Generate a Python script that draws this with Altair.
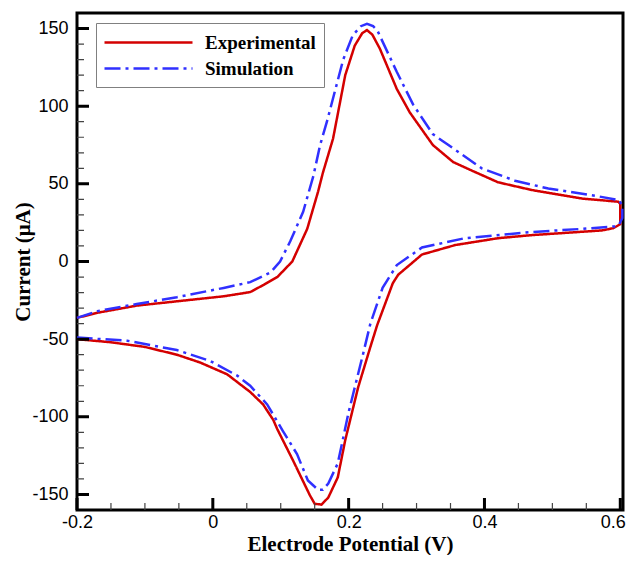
import altair as alt
import pandas as pd

# Experimental CV loop (V, uA), in scan order
exp_x = [-0.200, -0.170, -0.112, -0.050, 0.016, 0.055, 0.075, 0.095, 0.117, 0.139,
         0.155, 0.162, 0.177, 0.195, 0.209, 0.220, 0.227, 0.235, 0.246, 0.271,
         0.290, 0.324, 0.354, 0.379, 0.420, 0.470, 0.544, 0.597, 0.600, 0.600,
         0.590, 0.573, 0.470, 0.420, 0.357, 0.308, 0.273, 0.265, 0.242, 0.232,
         0.214, 0.195, 0.184, 0.170, 0.160, 0.150, 0.143, 0.118, 0.095, 0.089,
         0.074, 0.055, 0.021, -0.019, -0.053, -0.100, -0.150, -0.200]
exp_y = [-36.3, -33.0, -28.4, -25.5, -22.4, -19.7, -15.0, -10.0, 0.0, 21.0,
         45.0, 57.0, 79.0, 120.0, 139.0, 147.0, 149.0, 146.0, 137.0, 111.0,
         96.0, 75.0, 64.0, 59.0, 51.0, 46.0, 40.5, 38.5, 37.0, 24.0,
         21.5, 20.0, 17.0, 15.0, 10.6, 4.5, -8.5, -14.0, -41.0, -55.0,
         -81.0, -115.0, -139.0, -152.0, -156.5, -156.0, -150.6, -128.0, -108.0, -102.0,
         -92.0, -84.0, -72.6, -65.0, -60.0, -55.0, -52.0, -50.0]

# Simulated CV loop
sim_x = [-0.200, -0.170, -0.112, -0.053, 0.016, 0.055, 0.085, 0.099, 0.114, 0.133,
         0.148, 0.158, 0.168, 0.192, 0.206, 0.218, 0.227, 0.236, 0.242, 0.271,
         0.295, 0.324, 0.360, 0.396, 0.445, 0.494, 0.567, 0.598, 0.603, 0.603,
         0.598, 0.592, 0.544, 0.470, 0.371, 0.308, 0.271, 0.250, 0.232, 0.221,
         0.200, 0.184, 0.170, 0.162, 0.155, 0.140, 0.124, 0.103, 0.080, 0.055,
         0.036, -0.004, -0.053, -0.126, -0.200]
sim_y = [-36.3, -32.0, -27.4, -23.0, -17.0, -13.3, -7.0, 0.0, 13.0, 32.0,
         55.0, 75.0, 90.0, 130.0, 145.6, 151.5, 153.0, 151.5, 149.0, 122.0,
         101.0, 82.0, 71.0, 60.0, 52.0, 47.0, 42.0, 39.5, 36.0, 28.0,
         23.5, 22.6, 21.0, 19.0, 15.0, 9.0, -2.3, -17.0, -40.0, -60.0,
         -97.0, -130.0, -143.0, -147.0, -147.0, -141.0, -124.0, -109.0, -92.0, -80.0,
         -73.5, -64.0, -57.0, -51.0, -49.0]

series_names = ["Experimental", "Simulation"]

x_major = [-0.2, 0.0, 0.2, 0.4, 0.6]
x_minor = [-0.15, -0.1, -0.05, 0.05, 0.1, 0.15, 0.25, 0.3, 0.35, 0.45, 0.5, 0.55]
y_major = [-150, -100, -50, 0, 50, 100, 150]
y_minor = [-140, -130, -120, -110, -90, -80, -70, -60, -40, -30, -20, -10,
           10, 20, 30, 40, 60, 70, 80, 90, 110, 120, 130, 140]

W, H = 546, 497
X0, X1 = -0.2, 0.604
Y0, Y1 = -160, 160
ux = (X1 - X0) / W
uy = (Y1 - Y0) / H
MAJ, MIN = 12, 7

rows = []
for i, (xv, yv) in enumerate(zip(exp_x, exp_y)):
    rows.append({"x": xv, "y": yv, "series": series_names[0], "seg": "exp", "i": i, "w": 2.5})
for i, (xv, yv) in enumerate(zip(sim_x, sim_y)):
    rows.append({"x": xv, "y": yv, "series": series_names[1], "seg": "sim", "i": i, "w": 2.5})

# inward frame ticks, drawn as short segments at the tick values
def add_xticks(vals, length, kind, width):
    for k, t in enumerate(vals):
        seg = "x" + kind + str(k)
        rows.append({"x": t, "y": Y0, "series": kind, "seg": seg, "i": 0, "w": width})
        rows.append({"x": t, "y": Y0 + length * uy, "series": kind, "seg": seg, "i": 1, "w": width})

def add_yticks(vals, length, kind, width):
    for k, t in enumerate(vals):
        seg = "y" + kind + str(k)
        rows.append({"x": X0, "y": t, "series": kind, "seg": seg, "i": 0, "w": width})
        rows.append({"x": X0 + length * ux, "y": t, "series": kind, "seg": seg, "i": 1, "w": width})

add_xticks(x_major, MAJ, "tick_major", 3.0)
add_xticks(x_minor, MIN, "tick_minor", 1.2)
add_yticks(y_major, MAJ, "tick_major", 3.0)
add_yticks(y_minor, MIN, "tick_minor", 1.2)
df = pd.DataFrame(rows)

all_kinds = series_names + ["tick_major", "tick_minor"]
xscale = alt.Scale(domain=[X0, X1], nice=False, zero=False)
yscale = alt.Scale(domain=[Y0, Y1], nice=False, zero=False)

last_label = "datum.value >= 0.59"

chart = alt.Chart(df).mark_line().encode(
    x=alt.X("x:Q", scale=xscale, title="Electrode Potential (V)",
            axis=alt.Axis(values=x_major, labelExpr="toString(datum.value)",
                          ticks=False, tickSize=0, domain=False, grid=False,
                          labelFlush=False, labelPadding=3,
                          labelAlign=alt.condition(last_label, alt.value("right"), alt.value("center")),
                          labelOffset=alt.condition(last_label, alt.value(5), alt.value(0)),
                          titleBaseline="alphabetic", titleY=40)),
    y=alt.Y("y:Q", scale=yscale, title="Current (μA)",
            axis=alt.Axis(values=y_major, labelExpr="toString(datum.value)",
                          ticks=False, tickSize=0, domain=False, grid=False,
                          labelFlush=False, labelPadding=9,
                          titleBaseline="alphabetic", titleX=-48)),
    color=alt.Color("series:N",
                    scale=alt.Scale(domain=all_kinds, range=["#D40000", "#3030FF", "#000000", "#444444"]),
                    legend=alt.Legend(values=series_names, orient="none", legendX=19, legendY=10, title=None,
                                      symbolType="M-4.4,0H4.4", symbolSize=400,
                                      symbolStrokeWidth=2.5, symbolOffset=33,
                                      labelOffset=45, labelFont="Liberation Serif",
                                      labelFontSize=19, labelFontWeight="bold",
                                      labelColor="black", strokeColor="#808080",
                                      fillColor="white", padding=8, rowPadding=4)),
    strokeDash=alt.StrokeDash("series:N",
                              scale=alt.Scale(domain=all_kinds,
                                              range=[[1, 0], [16, 5, 3, 5], [1, 0], [1, 0]]),
                              legend=None),
    strokeWidth=alt.StrokeWidth("w:Q", scale=None, legend=None),
    detail=alt.Detail("seg:N"),
    order=alt.Order("i:Q"),
).properties(
    width=W, height=H,
    padding={"left": 69, "top": 5, "right": 4, "bottom": 45},
    autosize=alt.AutoSizeParams(type="none"),
).configure_view(
    stroke="black", strokeWidth=3
).configure_axis(
    labelFont="Liberation Sans", labelFontSize=18, labelColor="black",
    titleFont="Liberation Serif", titleFontSize=21, titleFontWeight="bold",
    titleColor="black",
)

chart.save("out.html", embed_options={"renderer": "svg", "actions": False})
